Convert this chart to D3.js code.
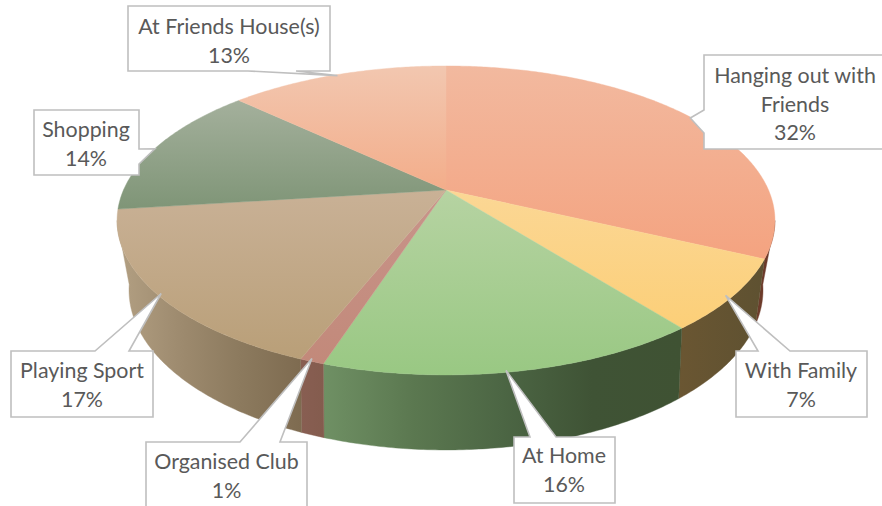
<!DOCTYPE html>
<html><head><meta charset="utf-8">
<script src="https://cdn.jsdelivr.net/npm/d3@7"></script>
<style>html,body{margin:0;padding:0;background:#fff;overflow:hidden}svg{display:block}text{font-family:Lato,"Open Sans",sans-serif;font-size:21.4px;fill:#595959;text-anchor:middle}</style>
</head><body><svg id="c" width="882" height="506"></svg>
<script>
// Data
const categories = ["Hanging out with Friends","With Family","At Home","Organised Club","Playing Sport","Shopping","At Friends House(s)"];
const percents = [32,7.4,15.6,1,17,14,13];
// Styles
const topLight = ["#f2b99f","#fbd795","#b6d3a2","#c8948a","#c9b196","#a4b09c","#f2c7b0"];
const topDark  = ["#f4a380","#fccf78","#99c883","#c2897a","#b99f78","#7f9577","#f3ad8a"];
const sideStops = [
  ["#6e3d2c","#6a3626"],
  ["#6a5632","#5e5131"],
  ["#6f9064","#5b7850","#4c6644","#3f5335","#3f5233"],
  ["#885e52","#845c4e"],
  ["#b3a083","#9e8b6f","#8c7a5e","#7e6b50"],
  ["#a69273","#a69273"],
  ["#a69273","#a69273"]
];
// Label layout: box [x0,y0,x1,y1], pointer base on one side, text centre x, first line y, tip nudge
const labelLines = [["Hanging out with","Friends"],["With Family"],["At Home"],["Organised Club"],["Playing Sport"],["Shopping"],["At Friends House(s)"]];
const labelLayout = [
 {box:[704,55,890,149],side:"left",base:[110,133],cx:795,y:76,nudge:[-2,0]},
 {box:[736,351,867,417],side:"top",base:[758,790],cx:801,y:371,nudge:[-8,0]},
 {box:[514,437,615,503],side:"top",base:[530,556],cx:564,y:456,nudge:[-10,-1]},
 {box:[146,442,307,520],side:"top",base:[240,280],cx:226.5,y:462,nudge:[0,-3]},
 {box:[11,351,153,417],side:"top",base:[95,129],cx:82,y:371,nudge:[5,0]},
 {box:[34,110,139,175],side:"right",base:[149,164],cx:86,y:130,nudge:[-2,2]},
 {box:[128,6,330,71],side:"bottom",base:[296,248],cx:229,y:27,nudge:[0,1]}
];
const lineStep = 28.5;
// Perspective projection of the unit disc, for the top face and the bottom rim
const cx = 446;
const topFace = {y0:190, A:148.5, B:-0.197, C:322.5};
const rim = {y0:253.2, A:151.5, B:-0.23, C:308.5};
const frontFrom = 101.4*Math.PI/180, frontTo = 258.6*Math.PI/180;
const svg = d3.select("#c");
const proj = (a,P) => {
  const X = Math.sin(a), Y = -Math.cos(a), d = 1 + P.B*Y;
  return [cx + P.C*X/d, P.y0 + P.A*Y/d];
};
const pie = d3.pie().sort(null).value(d=>d)(percents);
const arcPts = (a0,a1,P) => {
  const n = Math.max(2,Math.ceil((a1-a0)/0.01));
  return d3.range(n+1).map(i=>proj(a0+(a1-a0)*i/n,P));
};
const line = d3.line().curve(d3.curveLinear);
const defs = svg.append("defs");
pie.forEach((p,i)=>{
  const a = arcPts(p.startAngle,p.endAngle,topFace);
  const ys = a.map(d=>d[1]).concat(topFace.y0);
  const gt = defs.append("linearGradient").attr("id","t"+i).attr("gradientUnits","userSpaceOnUse")
    .attr("x1",0).attr("x2",0).attr("y1",d3.min(ys)).attr("y2",d3.max(ys));
  gt.append("stop").attr("offset",0).attr("stop-color",topLight[i]);
  gt.append("stop").attr("offset",1).attr("stop-color",topDark[i]);
  const s0 = Math.max(p.startAngle,frontFrom), s1 = Math.min(p.endAngle,frontTo);
  const xs = s0<s1 ? arcPts(s0,s1,topFace).concat(arcPts(s0,s1,rim)).map(d=>d[0]) : [0,1];
  const gs = defs.append("linearGradient").attr("id","s"+i).attr("gradientUnits","userSpaceOnUse")
    .attr("y1",0).attr("y2",0).attr("x1",d3.min(xs)).attr("x2",d3.max(xs));
  sideStops[i].forEach((c,k)=>gs.append("stop").attr("offset",k/(sideStops[i].length-1)).attr("stop-color",c));
});
// Walls: front-facing part only
const walls = pie.map((p,i)=>({i,a0:Math.max(p.startAngle,frontFrom),a1:Math.min(p.endAngle,frontTo)})).filter(w=>w.a0<w.a1);
svg.append("g").selectAll("path").data(walls).join("path")
  .attr("d",w=>line(arcPts(w.a0,w.a1,topFace).concat(arcPts(w.a0,w.a1,rim).reverse()))+"Z")
  .attr("fill",w=>`url(#s${w.i})`).attr("stroke",w=>`url(#s${w.i})`).attr("stroke-width",0.4);
// Top faces
svg.append("g").selectAll("path").data(pie).join("path")
  .attr("d",p=>line([[cx,topFace.y0]].concat(arcPts(p.startAngle,p.endAngle,topFace)))+"Z")
  .attr("fill",(p,i)=>`url(#t${i})`).attr("stroke",(p,i)=>`url(#t${i})`).attr("stroke-width",0.4);
// Callouts
const labels = svg.append("g").selectAll("g").data(pie).join("g");
labels.append("path").attr("fill","#fff").attr("stroke","#bfbfbf").attr("stroke-width",1.6)
 .attr("d",(p,i)=>{
   const L = labelLayout[i], [x0,y0,x1,y1] = L.box, [b0,b1] = L.base;
   const t = proj((p.startAngle+p.endAngle)/2,topFace); t[0]+=L.nudge[0]; t[1]+=L.nudge[1];
   const pts = [[x0,y0]];
   if(L.side==="top") pts.push([b0,y0],t,[b1,y0]);
   pts.push([x1,y0]);
   if(L.side==="right") pts.push([x1,b0],t,[x1,b1]);
   pts.push([x1,y1]);
   if(L.side==="bottom") pts.push([b0,y1],t,[b1,y1]);
   pts.push([x0,y1]);
   if(L.side==="left") pts.push([x0,b1],t,[x0,b0]);
   return line(pts)+"Z";
 });
labels.each(function(p,i){
  const L = labelLayout[i], g = d3.select(this);
  labelLines[i].concat(Math.round(p.value)+"%").forEach((s,k)=>{
    g.append("text").attr("x",L.cx).attr("y",L.y+k*lineStep).attr("dy","0.35em").text(s);
  });
});
</script></body></html>
